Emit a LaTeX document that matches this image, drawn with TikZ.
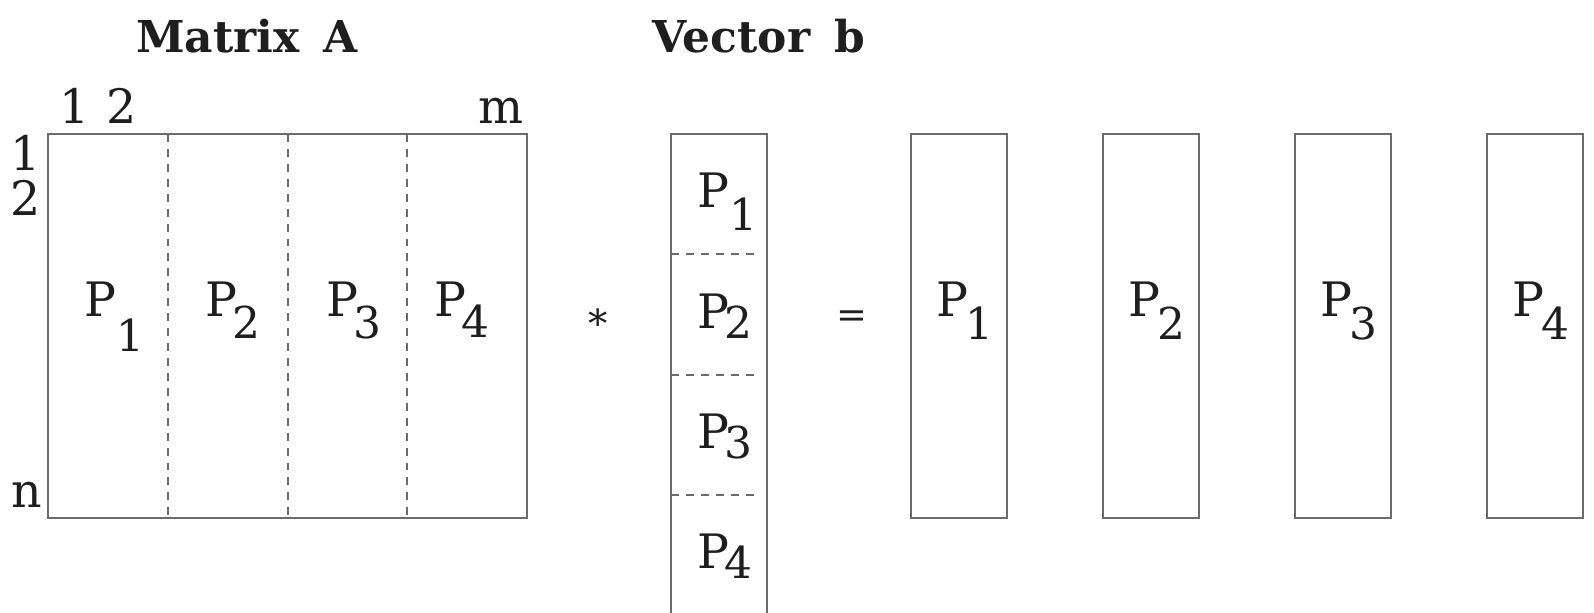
\documentclass[tikz,border=0pt]{standalone}
\usepackage{fontspec}
\setmainfont{DejaVu Serif}
\definecolor{linegray}{HTML}{6B6B6B}
\definecolor{ink}{HTML}{1E1E1E}
% P with a lowered index: digit, kern, drop
\newcommand{\Plab}[3]{P\kern#2\raisebox{#3}{\fontsize{25}{25}\selectfont #1}}
\begin{document}
\begin{tikzpicture}[x=.02cm,y=-.02cm,line width=.8pt,
  box/.style={draw=linegray},
  divide/.style={draw=linegray,dash pattern=on 4.5pt off 4pt},
  lab/.style={anchor=base west,inner sep=0pt,text=ink,font=\fontsize{27}{27}\selectfont},
  num/.style={anchor=base,inner sep=0pt,text=ink,font=\fontsize{27}{27}\selectfont},
  heading/.style={anchor=base,inner sep=0pt,text=ink,font=\bfseries\fontsize{25}{25}\selectfont}]
  \useasboundingbox (0,0) rectangle (1594,612);
  % headings
  \node[heading] (headA) at (247,52) {Matrix\hspace{.55em}A};
  \node[heading] (headb) at (759,52) {Vector\hspace{.55em}b};
  % matrix A
  \draw[box] (48,134) rectangle (527,518);
  \foreach \x in {168,288,407}
    \draw[divide] (\x,134)--(\x,518);
  \node[num] (col1) at (75,123) {1};
  \node[num] (col2) at (122,123) {2};
  \node[num] (colm) at (501,123) {m};
  \node[num] (row1) at (26,170) {1};
  \node[num] (row2) at (26,215) {2};
  \node[num] (rown) at (27,507) {n};
  \node[lab] (A1) at (84,316) {\Plab{1}{0pt}{-20.4pt}};
  \node[lab] (A2) at (205,316) {\Plab{2}{-3pt}{-13pt}};
  \node[lab] (A3) at (326,316) {\Plab{3}{-3pt}{-13pt}};
  \node[lab] (A4) at (434,316) {\Plab{4}{-3pt}{-12.5pt}};
  % operator signs
  \node[inner sep=0pt,anchor=north,text=ink,font=\fontsize{22}{22}\selectfont] (times) at (598,308) {*};
  \node[inner sep=0pt,text=ink,font=\fontsize{21}{21}\selectfont] (equals) at (852,319) {=};
  % vector b
  \draw[box] (671,616)--(671,134)--(767,134)--(767,616);
  \foreach \y in {254,375,495}
    \draw[divide] (671,\y)--(760,\y);
  \node[lab] (b1) at (697,207) {\Plab{1}{0pt}{-13.6pt}};
  \node[lab] (b2) at (697,328) {\Plab{2}{-3pt}{-5.7pt}};
  \node[lab] (b3) at (697,448) {\Plab{3}{-3pt}{-6.2pt}};
  \node[lab] (b4) at (697,568) {\Plab{4}{-3pt}{-6.2pt}};
  % result columns
  \foreach \x/\d [count=\i] in {911/1,1103/2,1295/3,1487/4} {
    \draw[box] (\x,134) rectangle ++(96,384);
    \node[lab] (c\i) at (\x+25,316) {\Plab{\d}{-2pt}{-13.6pt}};
  }
\end{tikzpicture}
\end{document}
